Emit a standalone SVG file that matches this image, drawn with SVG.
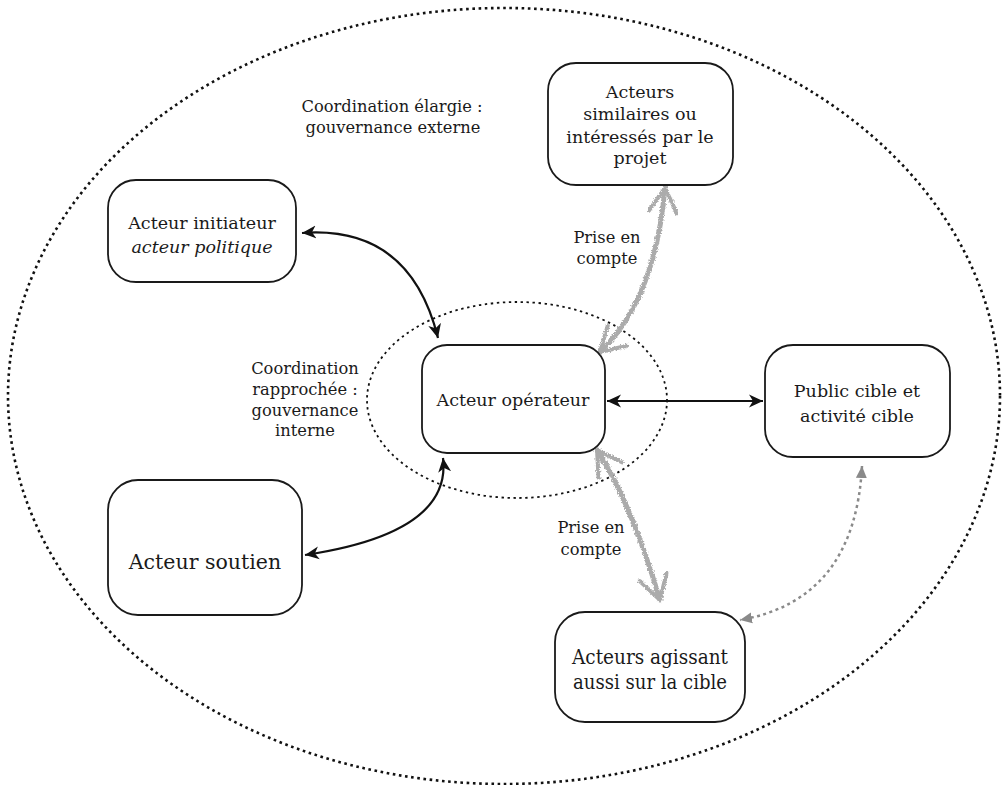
<svg xmlns="http://www.w3.org/2000/svg" width="1003" height="785" viewBox="0 0 1003 785">
<style>
  .box { fill: #ffffff; stroke: #1a1a1a; stroke-width: 1.8; }
  .t { font-family: "DejaVu Serif", "Liberation Serif", serif; font-size: 17.5px; fill: #1a1a1a; text-anchor: middle; }
  .big { font-size: 20.5px; }
  .cond { font-size: 20px; }
  .lbl { font-family: "DejaVu Serif", "Liberation Serif", serif; font-size: 16.3px; fill: #1a1a1a; text-anchor: middle; }
  .blk { fill: none; stroke: #111; stroke-width: 2.2; marker-start: url(#ah); marker-end: url(#ah); }
  .sq { fill: none; stroke: #ababab; stroke-width: 5; stroke-linecap: round; marker-start: url(#chev); marker-end: url(#chev); }
  .dotg { fill: none; stroke: #8a8a8a; stroke-width: 2.5; stroke-dasharray: 3 3.5; marker-start: url(#ahg); marker-end: url(#ahg); }
</style>
<defs>
  <marker id="ah" viewBox="-14 -7 15 14" refX="0" refY="0" markerWidth="15" markerHeight="14" markerUnits="userSpaceOnUse" orient="auto-start-reverse">
    <path d="M0,0 L-14,-6.5 L-10,0 L-14,6.5 Z" fill="#111"/>
  </marker>
  <marker id="ahg" viewBox="-12 -6 13 12" refX="0" refY="0" markerWidth="13" markerHeight="12" markerUnits="userSpaceOnUse" orient="auto-start-reverse">
    <path d="M0,0 L-12,-5.5 L-12,5.5 Z" fill="#8a8a8a"/>
  </marker>
  <marker id="chev" viewBox="-30 -18 33 36" refX="0" refY="0" markerWidth="33" markerHeight="36" markerUnits="userSpaceOnUse" orient="auto-start-reverse">
    <path d="M-24,-14 L0,0 L-24,14" fill="none" stroke="#ababab" stroke-width="4" stroke-linecap="round" stroke-linejoin="round"/>
  </marker>
  <filter id="rough" filterUnits="userSpaceOnUse" x="0" y="0" width="1003" height="785">
    <feTurbulence type="fractalNoise" baseFrequency="0.7" numOctaves="2" seed="3" result="n"/>
    <feDisplacementMap in="SourceGraphic" in2="n" scale="4" xChannelSelector="R" yChannelSelector="G"/>
  </filter>
</defs>
<rect x="0" y="0" width="1003" height="785" fill="#ffffff"/>

<g id="zones">
  <ellipse cx="504" cy="396" rx="496" ry="388" fill="none" stroke="#111" stroke-width="2.6" stroke-dasharray="2.6 3.6"/>
  <ellipse cx="517" cy="400" rx="150" ry="98" fill="none" stroke="#111" stroke-width="1.8" stroke-dasharray="2.4 3.6"/>
</g>

<g id="labels">
  <text class="lbl" x="392" y="112">Coordination élargie :</text>
  <text class="lbl" x="393" y="133">gouvernance externe</text>
  <text class="lbl" x="305" y="374">Coordination</text>
  <text class="lbl" x="305" y="395">rapprochée :</text>
  <text class="lbl" x="305" y="416">gouvernance</text>
  <text class="lbl" x="305" y="436">interne</text>
  <text class="lbl" x="607" y="243">Prise en</text>
  <text class="lbl" x="607" y="264">compte</text>
  <text class="lbl" x="591" y="533">Prise en</text>
  <text class="lbl" x="591" y="555">compte</text>
</g>

<g id="connectors">
  <path class="blk" d="M302,233 Q410,225 438,338"/>
  <path class="blk" d="M443,458 Q452,533 305,555"/>
  <path class="blk" d="M607,401 L763,401"/>
  <g filter="url(#rough)">
    <path class="sq" d="M600,352 Q655,300 665,188"/>
    <path class="sq" d="M597,450 Q630,500 660,600"/>
  </g>
  <path class="dotg" d="M862,466 Q855,600 740,620"/>
</g>

<g id="node-similaires">
  <rect class="box" x="548" y="63" width="185" height="122" rx="28"/>
  <text class="t" x="640" y="98">Acteurs</text>
  <text class="t" x="640" y="120">similaires ou</text>
  <text class="t" x="640" y="143">intéressés par le</text>
  <text class="t" x="640" y="164">projet</text>
</g>

<g id="node-initiateur">
  <rect class="box" x="108" y="180" width="188" height="102" rx="28"/>
  <text class="t" x="202" y="229">Acteur initiateur</text>
  <text class="t" x="202" y="253" font-style="italic">acteur politique</text>
</g>

<g id="node-operateur">
  <rect class="box" x="422" y="345" width="183" height="108" rx="25"/>
  <text class="t" x="513" y="406">Acteur opérateur</text>
</g>

<g id="node-public">
  <rect class="box" x="765" y="345" width="185" height="112" rx="28"/>
  <text class="t" x="857" y="397">Public cible et</text>
  <text class="t" x="857" y="422">activité cible</text>
</g>

<g id="node-soutien">
  <rect class="box" x="108" y="480" width="194" height="135" rx="30"/>
  <text class="t big" x="205" y="569">Acteur soutien</text>
</g>

<g id="node-agissant">
  <rect class="box" x="555" y="612" width="190" height="110" rx="30"/>
  <text class="t cond" x="650" y="664" textLength="156" lengthAdjust="spacingAndGlyphs">Acteurs agissant</text>
  <text class="t cond" x="650" y="689" textLength="154" lengthAdjust="spacingAndGlyphs">aussi sur la cible</text>
</g>
</svg>
